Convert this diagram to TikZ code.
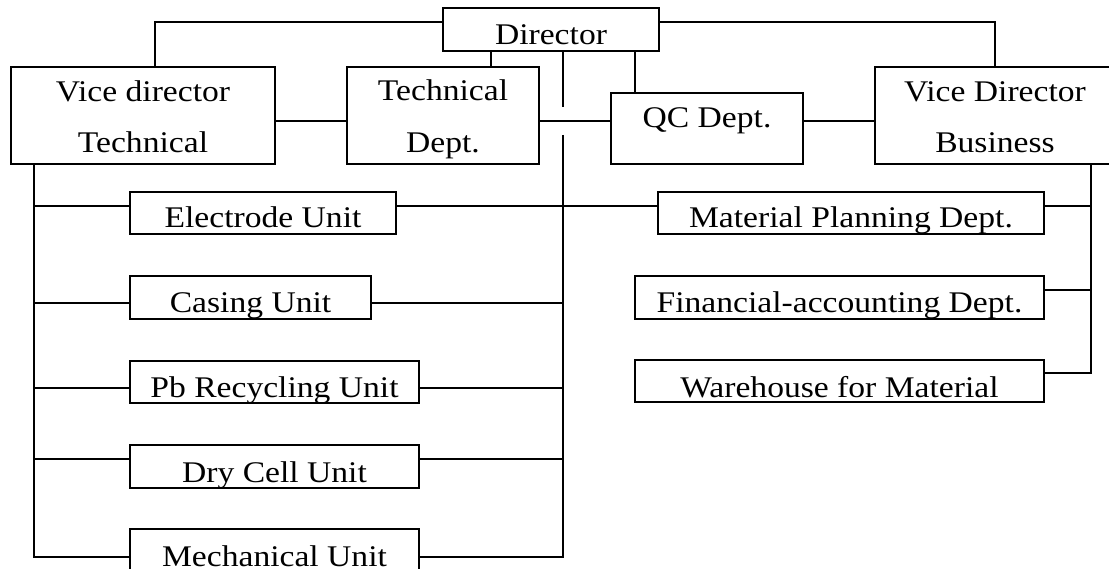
\documentclass[tikz,border=0pt]{standalone}
\usepackage{fontspec}
\setmainfont{Liberation Serif}[FakeStretch=1.12]
\begin{document}
\begin{tikzpicture}[x=1pt,y=-1pt,
  box/.style={draw, line width=1.6pt, inner sep=0pt, outer sep=0pt, anchor=north west},
  conn/.style={line width=1.6pt},
  lbl/.style={anchor=base, inner sep=0pt, outer sep=0pt, font=\fontsize{30}{51}\selectfont}]
\useasboundingbox (0,0) rectangle (1109,569);

% top level
\node[box, minimum width=216pt, minimum height=43pt,
  path picture={\node[lbl] (dirT) at ([yshift=6pt]path picture bounding box.south) {Director};}] (dir) at (443,8) {};
\node[box, minimum width=264pt, minimum height=97pt,
  path picture={\node[lbl] (vdtA) at ([yshift=62pt]path picture bounding box.south) {Vice director};
                \node[lbl] (vdtB) at ([yshift=11pt]path picture bounding box.south) {Technical};}] (vdt) at (11,67) {};
\node[box, minimum width=192pt, minimum height=97pt,
  path picture={\node[lbl] (tdA) at ([yshift=63pt]path picture bounding box.south) {Technical};
                \node[lbl] (tdB) at ([yshift=11pt]path picture bounding box.south) {Dept.};}] (td) at (347,67) {};
\node[box, minimum width=192pt, minimum height=71pt,
  path picture={\node[lbl] (qcT) at ([yshift=36pt]path picture bounding box.south) {QC Dept.};}] (qc) at (611,93) {};
\node[box, minimum width=240pt, minimum height=97pt,
  path picture={\node[lbl] (vdbA) at ([yshift=62pt]path picture bounding box.south) {Vice Director};
                \node[lbl] (vdbB) at ([yshift=11pt]path picture bounding box.south) {Business};}] (vdb) at (875,67) {};

% units (left)
\node[box, minimum width=266pt, minimum height=42pt,
  path picture={\node[lbl] (euT) at ([yshift=6pt]path picture bounding box.south) {Electrode Unit};}] (eu) at (130,192) {};
\node[box, minimum width=241pt, minimum height=43pt,
  path picture={\node[lbl] (cuT) at ([yshift=6pt]path picture bounding box.south) {Casing Unit};}] (cu) at (130,276) {};
\node[box, minimum width=289pt, minimum height=42pt,
  path picture={\node[lbl] (pbT) at ([yshift=6pt]path picture bounding box.south) {Pb Recycling Unit};}] (pb) at (130,361) {};
\node[box, minimum width=289pt, minimum height=43pt,
  path picture={\node[lbl] (dcT) at ([yshift=6pt]path picture bounding box.south) {Dry Cell Unit};}] (dc) at (130,445) {};
\node[box, minimum width=289pt, minimum height=43pt,
  path picture={\node[lbl] (muT) at ([yshift=6pt]path picture bounding box.south) {Mechanical Unit};}] (mu) at (130,529) {};

% departments (right)
\node[box, minimum width=386pt, minimum height=42pt,
  path picture={\node[lbl] (mpdT) at ([yshift=6pt]path picture bounding box.south) {Material Planning Dept.};}] (mpd) at (658,192) {};
\node[box, minimum width=409pt, minimum height=43pt,
  path picture={\node[lbl] (fadT) at ([yshift=6pt]path picture bounding box.south) {Financial-accounting Dept.};}] (fad) at (635,276) {};
\node[box, minimum width=409pt, minimum height=42pt,
  path picture={\node[lbl] (wfmT) at ([yshift=5pt]path picture bounding box.south) {Warehouse for Material};}] (wfm) at (635,360) {};

% bus coordinates
\coordinate (busL) at ([xshift=-109pt]vdt.south);
\coordinate (stubEnd) at (563,107);
\coordinate (busC) at (563,135);
\coordinate (busR) at ([xshift=96pt]vdb.south);

% connectors from Director
\draw[conn] ([yshift=7.5pt]dir.west) -| ([xshift=12pt]vdt.north);
\draw[conn] ([yshift=7.5pt]dir.east) -| (vdb.north);
\draw[conn] ([xshift=48pt]td.north) -- ([xshift=48pt]td.north |- dir.south);
\draw[conn] ([xshift=12pt]dir.south) -- (stubEnd);
\draw[conn] ([xshift=-72pt]qc.north) -- ([xshift=-72pt]qc.north |- dir.south);

% second row horizontal links
\draw[conn] ([yshift=-5.5pt]vdt.east) -- ([yshift=-5.5pt]td.west);
\draw[conn] ([yshift=-5.5pt]td.east) -- ([yshift=-5.5pt]td.east -| qc.west);
\draw[conn] ([yshift=7.5pt]qc.east) -- ([yshift=7.5pt]qc.east -| vdb.west);

% left bus
\draw[conn] (busL) |- ([yshift=-6.5pt]mu.west);
\draw[conn] ([yshift=7pt]eu.west) -- ([yshift=7pt]eu.west -| busL);
\draw[conn] ([yshift=-5.5pt]cu.west) -- ([yshift=-5.5pt]cu.west -| busL);
\draw[conn] ([yshift=-6pt]pb.west) -- ([yshift=-6pt]pb.west -| busL);
\draw[conn] ([yshift=7.5pt]dc.west) -- ([yshift=7.5pt]dc.west -| busL);

% centre bus
\draw[conn] (busC) |- ([yshift=-6.5pt]mu.east);
\draw[conn] ([yshift=7pt]eu.east) -- ([yshift=7pt]eu.east -| mpd.west);
\draw[conn] ([yshift=-5.5pt]cu.east) -- ([yshift=-5.5pt]cu.east -| busC);
\draw[conn] ([yshift=-6pt]pb.east) -- ([yshift=-6pt]pb.east -| busC);
\draw[conn] ([yshift=7.5pt]dc.east) -- ([yshift=7.5pt]dc.east -| busC);

% right bus
\draw[conn] (busR) |- ([yshift=8pt]wfm.east);
\draw[conn] ([yshift=7pt]mpd.east) -- ([yshift=7pt]mpd.east -| busR);
\draw[conn] ([yshift=7.5pt]fad.east) -- ([yshift=7.5pt]fad.east -| busR);
\end{tikzpicture}
\end{document}
